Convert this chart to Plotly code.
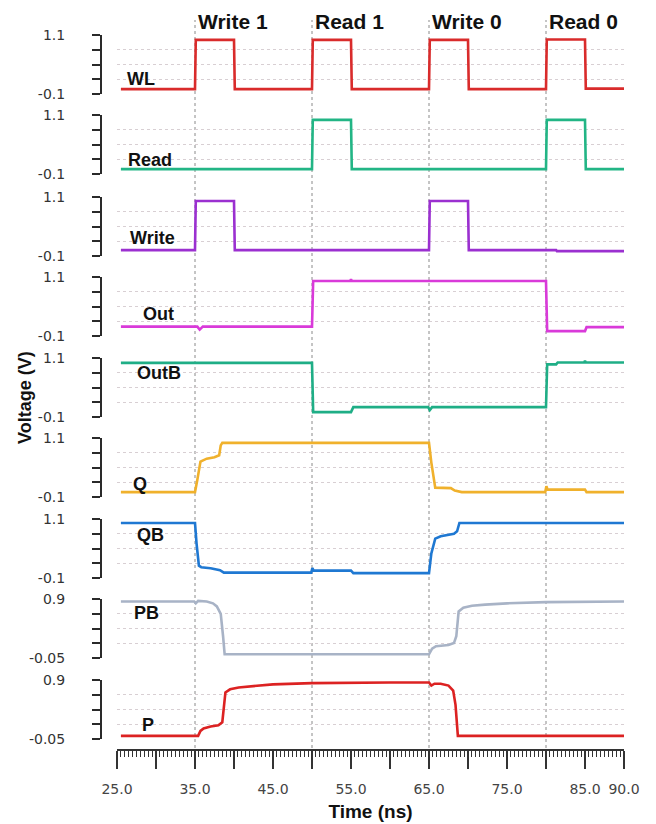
import plotly.graph_objects as go

W, H = 656, 824

# ---------------- data ----------------
signals = ["WL", "Read", "Write", "Out", "OutB", "Q", "QB", "PB", "P"]
colors = ["#d92b2b", "#22b585", "#9b30d0", "#d93ad9", "#1fae86", "#f0b12c", "#1f78d2", "#a8b3c6", "#dc2222"]

t_WL = [25.5, 35, 35.1, 40, 40.1, 50, 50.1, 55, 55.1, 65, 65.1, 70, 70.1, 80, 80.1, 85, 85.1, 90]
v_WL = [0, 0, 1.0, 1.0, 0, 0, 1.0, 1.0, 0, 0, 1.0, 1.0, 0, 0, 1.01, 1.01, 0.01, 0.01]

t_Read = [25.5, 50, 50.1, 55, 55.1, 80, 80.1, 85, 85.1, 90]
v_Read = [0, 0, 1.0, 1.0, 0, 0, 1.0, 1.0, 0, 0]

t_Write = [25.5, 35, 35.1, 40, 40.1, 65, 65.1, 70, 70.1, 81.3, 81.4, 90]
v_Write = [0.02, 0.02, 1.02, 1.02, 0.02, 0.02, 1.02, 1.02, 0.02, 0.02, 0.0, 0.0]

t_Out = [25.5, 35.3, 35.6, 36.0, 50, 50.15, 54.9, 55.0, 55.1, 80, 80.15, 85, 85.2, 90]
v_Out = [0.09, 0.09, 0.03, 0.09, 0.09, 1.02, 1.02, 1.05, 1.02, 1.02, 0.0, 0.0, 0.08, 0.08]

t_OutB = [25.5, 50, 50.15, 55, 55.3, 64.9, 65.1, 65.4, 80, 80.15, 81.3, 81.5, 84.9, 85, 85.1, 90]
v_OutB = [1.0, 1.0, 0.0, 0.0, 0.1, 0.1, 0.04, 0.1, 0.1, 0.97, 0.97, 1.01, 1.01, 1.04, 1.01, 1.01]

t_Q = [25.5, 35, 35.3, 35.7, 36.5, 37.5, 38.1, 38.3, 38.5, 65, 65.3, 65.8, 67.8, 68.3, 69.2, 79.9, 80.05, 80.2, 85, 85.2, 90]
v_Q = [0.0, 0.0, 0.25, 0.62, 0.68, 0.71, 0.75, 0.95, 1.0, 1.0, 0.6, 0.09, 0.08, 0.03, 0.0, 0.0, 0.12, 0.05, 0.05, 0.0, 0.0]

t_QB = [25.5, 35, 35.2, 35.5, 35.8, 37, 38.2, 38.7, 49.9, 50.05, 50.2, 55, 55.3, 65, 65.3, 65.8, 66.5, 68.2, 68.6, 68.9, 90]
v_QB = [1.02, 1.02, 0.6, 0.15, 0.12, 0.1, 0.06, 0.01, 0.01, 0.1, 0.05, 0.05, 0.0, 0.0, 0.4, 0.7, 0.75, 0.8, 0.85, 1.02, 1.02]

t_PB = [25.5, 34.9, 35.1, 35.4, 36.5, 37.3, 37.8, 38.3, 38.6, 38.8, 65, 65.4, 65.9, 67.5, 68.2, 68.5, 68.8, 69.4, 70.5, 72.2, 75, 80, 90]
v_PB = [0.86, 0.86, 0.83, 0.87, 0.86, 0.83, 0.78, 0.66, 0.3, 0.01, 0.01, 0.1, 0.14, 0.16, 0.19, 0.3, 0.7, 0.76, 0.79, 0.81, 0.83, 0.85, 0.86]

t_P = [25.5, 35.4, 35.7, 36.1, 37, 38, 38.5, 38.7, 38.9, 39.5, 40.6, 45, 50, 60, 65, 65.3, 65.7, 66.5, 67.5, 68.1, 68.4, 68.7, 90]
v_P = [0.0, 0.0, 0.08, 0.12, 0.15, 0.17, 0.22, 0.45, 0.7, 0.75, 0.78, 0.83, 0.85, 0.86, 0.86, 0.81, 0.84, 0.84, 0.81, 0.73, 0.5, 0.0, 0.0]

times = [t_WL, t_Read, t_Write, t_Out, t_OutB, t_Q, t_QB, t_PB, t_P]
values = [v_WL, v_Read, v_Write, v_Out, v_OutB, v_Q, v_QB, v_PB, v_P]

y_lo = [-0.1] * 7 + [-0.05] * 2
y_hi = [1.1] * 7 + [0.9] * 2
y_lo_text = ["-0.1"] * 7 + ["-0.05"] * 2
y_hi_text = ["1.1"] * 7 + ["0.9"] * 2

phases = ["Write 1", "Read 1", "Write 0", "Read 0"]
phase_t = [35, 50, 65, 80]

x_tickvals = [25, 30, 35, 40, 45, 50, 55, 60, 65, 70, 75, 80, 85, 90]
x_ticktext = ["25.0", "", "35.0", "", "45.0", "", "55.0", "", "65.0", "", "75.0", "", "85.0", "90.0"]

# ---------------- layout geometry (pixels) ----------------
panel_tops = [35, 115, 197, 277, 358, 438, 519, 599, 680]
panel_h = 59
label_pos = [(127, 79), (128, 160), (130, 238), (143, 314), (137, 373), (133, 484), (137, 535), (134, 613), (142, 725)]
x_left, x_right = 117, 624
yaxis_x = 101
xaxis_y = 750

def py(p):
    return 1 - p / H

def px(p):
    return p / W

fig = go.Figure()
layout = dict(
    width=W, height=H,
    margin=dict(l=0, r=0, t=0, b=0),
    paper_bgcolor="white", plot_bgcolor="white",
    showlegend=False,
    font=dict(family="DejaVu Sans", color="#333"),
)

for i, name in enumerate(signals):
    yname = "y" if i == 0 else f"y{i+1}"
    fig.add_trace(go.Scatter(
        x=times[i], y=values[i], mode="lines", xaxis="x", yaxis=yname,
        line=dict(color=colors[i], width=2.6), hoverinfo="skip",
    ))
    lo, hi = y_lo[i], y_hi[i]
    step = (hi - lo) / 4
    tv = [lo + k * step for k in range(5)]
    layout["yaxis" if i == 0 else f"yaxis{i+1}"] = dict(
        domain=[py(panel_tops[i] + panel_h), py(panel_tops[i])],
        range=[lo, hi], anchor="free", position=px(yaxis_x), side="left",
        showline=True, linecolor="#2a2a2a", linewidth=2,
        ticks="outside", ticklen=8, tickwidth=2, tickcolor="#2a2a2a",
        tickvals=tv, ticktext=[y_lo_text[i], "", "", "", y_hi_text[i]],
        tickfont=dict(family="DejaVu Sans", size=14, color="#333"),
        ticklabelstandoff=24,
        showgrid=True, gridcolor="#d8cfd3", griddash="dot", gridwidth=1.2,
        zeroline=False, fixedrange=True, automargin=False,
    )

layout["xaxis"] = dict(
    domain=[px(x_left), px(x_right)], range=[25, 90],
    anchor="free", position=py(xaxis_y),
    showline=True, linecolor="#333", linewidth=1.5,
    ticks="outside", ticklen=18, tickwidth=1.5, tickcolor="#333",
    tickvals=x_tickvals, ticktext=x_ticktext,
    tickfont=dict(family="DejaVu Sans", size=14, color="#444"),
    ticklabelstandoff=8,
    minor=dict(dtick=0.5, tick0=25, ticks="outside", ticklen=6, tickwidth=1.2, tickcolor="#333", showgrid=False),
    showgrid=False, zeroline=False, automargin=False,
    title=dict(text="<b>Time (ns)</b>", font=dict(family="Liberation Sans", size=19, color="#111"), standoff=8),
)
layout["xaxis2"] = dict(
    domain=[px(x_left), px(x_right)], range=[25, 90], overlaying="x",
    anchor="free", position=py(xaxis_y),
    showline=False, ticks="outside", ticklen=10, tickwidth=1.2, tickcolor="#333",
    dtick=1, tick0=25, showticklabels=False, showgrid=False, zeroline=False, automargin=False,
)

shapes = []
for t in phase_t:
    shapes.append(dict(type="line", xref="x", yref="paper", x0=t, x1=t, y0=py(748), y1=py(20),
                       line=dict(color="#8a8a8a", width=1, dash="3px,3px"), layer="below"))
layout["shapes"] = shapes

ann = []
for name, t in zip(phases, phase_t):
    ann.append(dict(x=t, xref="x", y=py(21), yref="paper", text=f"<b>{name}</b>", showarrow=False,
                    xanchor="left", yanchor="middle", xshift=1,
                    font=dict(family="Liberation Sans", size=21, color="#111")))
for name, (lx, ly) in zip(signals, label_pos):
    ann.append(dict(x=px(lx), xref="paper", y=py(ly), yref="paper", text=f"<b>{name}</b>", showarrow=False,
                    xanchor="left", yanchor="middle", xshift=-2,
                    font=dict(family="Liberation Sans", size=18, color="#111")))
ann.append(dict(x=px(25), xref="paper", y=py(398), yref="paper", text="<b>Voltage (V)</b>", showarrow=False,
                textangle=-90, xanchor="center", yanchor="middle",
                font=dict(family="Liberation Sans", size=18, color="#111")))
layout["annotations"] = ann

fig.update_layout(**layout)
fig.write_html("out.html")
